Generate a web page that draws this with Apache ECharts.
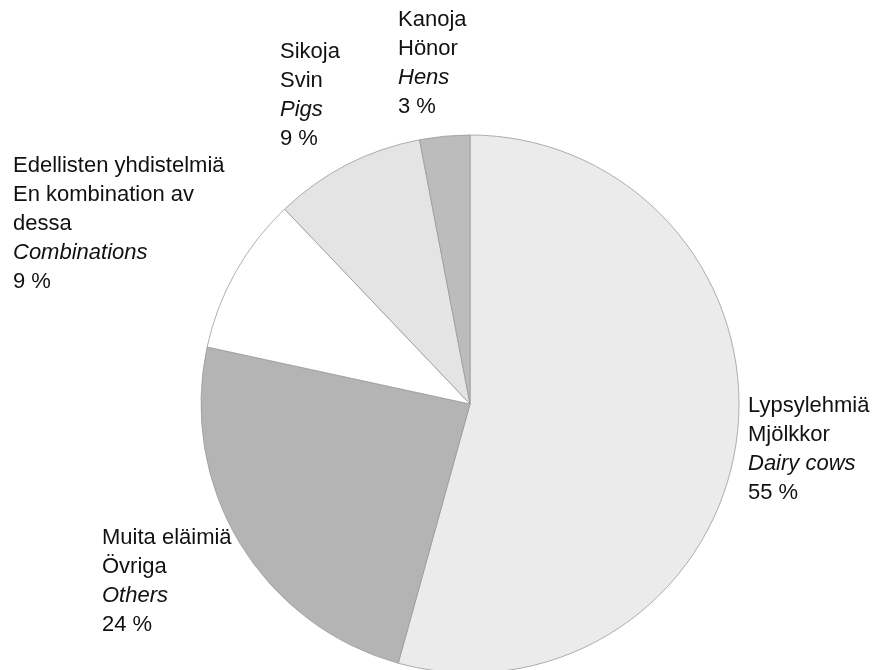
<!DOCTYPE html>
<html>
<head>
<meta charset="utf-8">
<script src="https://cdn.jsdelivr.net/npm/echarts@6/dist/echarts.min.js"></script>
<style>
  html, body { margin: 0; padding: 0; background: #fff; }
  #chart { width: 877px; height: 670px; }
</style>
</head>
<body>
<div id="chart"></div>
<script>
// data
const namesFi = ['Lypsylehmiä', 'Muita eläimiä', 'Edellisten yhdistelmiä', 'Sikoja', 'Kanoja']
const namesSv = ['Mjölkkor', 'Övriga', 'En kombination av\ndessa', 'Svin', 'Hönor']
const namesEn = ['Dairy cows', 'Others', 'Combinations', 'Pigs', 'Hens']
// slice shares as measured from the drawing, and the printed (rounded) shares
const values = [54.3, 24.1, 9.5, 9.1, 3.0]
const pctText = [55, 24, 9, 9, 3]

// slice fills and label spots (top-left of each text block)
const fills = ['#ebebeb', '#b4b4b4', '#ffffff', '#e4e4e4', '#bcbcbc']
const labelPos = [[748, 391], [102, 523], [13, 151], [280, 37], [398, 5]]

const chart = echarts.init(document.getElementById('chart'))

const option = {
  backgroundColor: '#fff',
  animation: false,
  series: [
    {
      type: 'pie',
      center: [470, 404],
      radius: [0, 269],
      startAngle: 90,
      clockwise: true,
      avoidLabelOverlap: false,
      data: values.map((v, i) => ({
        value: v,
        name: namesEn[i],
        itemStyle: { color: fills[i] }
      })),
      itemStyle: {
        borderColor: '#9a9a9a',
        borderWidth: 0.8
      },
      emphasis: { disabled: true },
      labelLine: { show: false },
      label: {
        show: true,
        position: 'outside',
        formatter: p => {
          const i = p.dataIndex
          const sv = namesSv[i].split('\n').map(s => '{a|' + s + '}').join('\n')
          return '{a|' + namesFi[i] + '}\n' + sv + '\n{i|' + namesEn[i] + '}\n{a|' + pctText[i] + ' %}'
        },
        rich: {
          a: {
            fontFamily: 'Liberation Sans, Arial, sans-serif',
            fontSize: 22,
            lineHeight: 29,
            color: '#111'
          },
          i: {
            fontFamily: 'Liberation Sans, Arial, sans-serif',
            fontSize: 22,
            lineHeight: 29,
            fontStyle: 'italic',
            color: '#111'
          }
        }
      },
      labelLayout: p => ({
        x: labelPos[p.dataIndex][0],
        y: labelPos[p.dataIndex][1],
        align: 'left',
        verticalAlign: 'top'
      })
    }
  ]
}

chart.setOption(option)
</script>
</body>
</html>
